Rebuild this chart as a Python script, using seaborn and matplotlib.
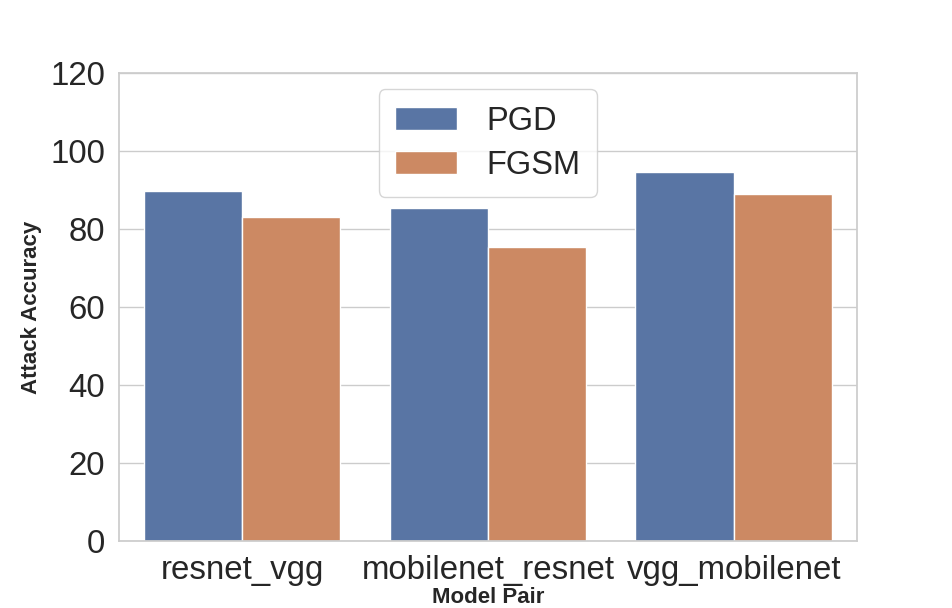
import matplotlib
matplotlib.use("Agg")
import matplotlib.pyplot as plt
import seaborn as sns
import pandas as pd

# datos
model_pairs = ["resnet_vgg", "mobilenet_resnet", "vgg_mobilenet"]
pgd_acc = [89.7, 85.4, 94.5]
fgsm_acc = [83.2, 75.3, 88.9]

df = pd.DataFrame({
    "Model Pair": model_pairs * 2,
    "Attack Accuracy": pgd_acc + fgsm_acc,
    "Attack": ["PGD"] * 3 + ["FGSM"] * 3,
})

sns.set_theme(style="whitegrid")
plt.rcParams["font.family"] = ["Liberation Sans", "DejaVu Sans"]

fig, ax = plt.subplots(figsize=(9.52, 6.08), dpi=100)
fig.subplots_adjust(left=0.125, right=0.9, top=0.88, bottom=0.11)

sns.barplot(data=df, x="Model Pair", y="Attack Accuracy", hue="Attack", ax=ax)

ax.set_ylim(0, 120)
ax.set_yticks(range(0, 121, 20))
ax.tick_params(axis="both", labelsize=23.8, pad=4)
ax.set_xlabel("Model Pair", fontsize=16, fontweight="bold", labelpad=1)
ax.set_ylabel("Attack Accuracy", fontsize=16, fontweight="bold", labelpad=6)
ax.xaxis.grid(False)

ax.legend(loc="upper center", fontsize=23.5, handlelength=1.9, handletextpad=0.9,
          borderpad=0.5, labelspacing=0.4, title=None)

plt.savefig("out.png", dpi=100)
plt.close()
